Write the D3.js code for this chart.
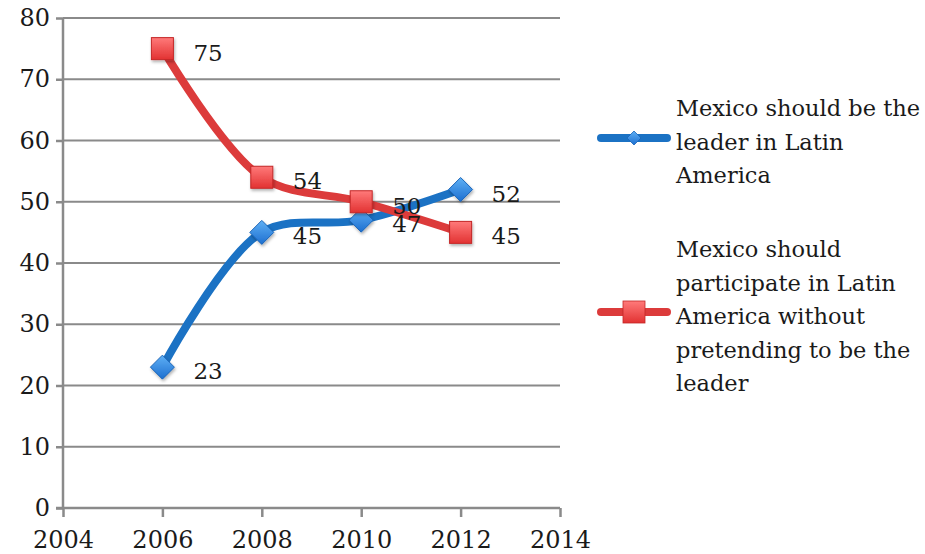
<!DOCTYPE html>
<html>
<head>
<meta charset="utf-8">
<script src="https://cdn.jsdelivr.net/npm/d3@7"></script>
<style>
  html, body { margin: 0; padding: 0; background: #fff; }
  svg { display: block; }
  text { font-family: "DejaVu Serif", "Liberation Serif", serif; fill: #1a1a1a; }
</style>
</head>
<body>
<svg id="chart" width="925" height="554"></svg>
<script>
// Survey results: share of respondents (%) by year
const years = [2006, 2008, 2010, 2012];
const leaderValues = [23, 45, 47, 52];
const participateValues = [75, 54, 50, 45];
const seriesNames = [
  ["Mexico should be the", "leader in Latin", "America"],
  ["Mexico should", "participate in Latin", "America without", "pretending to be the", "leader"]
];
const xTicks = [2004, 2006, 2008, 2010, 2012, 2014];
const yTicks = [0, 10, 20, 30, 40, 50, 60, 70, 80];

const svg = d3.select("#chart");
const plotLeft = 63, plotRight = 560, plotTop = 18, plotBottom = 508;

const x = d3.scaleLinear().domain([2004, 2014]).range([plotLeft, plotRight]);
const y = d3.scaleLinear().domain([0, 80]).range([plotBottom, plotTop]);

const blue = "#1b72c4", red = "#dc3b3b";

// gradients for markers
const defs = svg.append("defs");
function grad(id, c1, c2) {
  const g = defs.append("linearGradient").attr("id", id)
    .attr("x1", 0).attr("y1", 0).attr("x2", 0).attr("y2", 1);
  g.append("stop").attr("offset", "0%").attr("stop-color", c1);
  g.append("stop").attr("offset", "100%").attr("stop-color", c2);
}
grad("gRed", "#ff7a7a", "#e23232");
grad("gBlue", "#5fb0f5", "#1d6fd0");
const f = defs.append("filter").attr("id", "shadow").attr("x", "-30%").attr("y", "-30%").attr("width", "170%").attr("height", "170%");
f.append("feDropShadow").attr("dx", 1).attr("dy", 2).attr("stdDeviation", 1.5).attr("flood-color", "#000").attr("flood-opacity", 0.3);

// gridlines
svg.append("g").selectAll("line").data(yTicks.filter(d => d > 0)).join("line")
  .attr("x1", plotLeft).attr("x2", plotRight)
  .attr("y1", d => y(d)).attr("y2", d => y(d))
  .attr("stroke", "#8a8a8a").attr("stroke-width", 2);

// y axis
const yAxis = svg.append("g").attr("transform", `translate(${plotLeft},0)`)
  .call(d3.axisLeft(y).tickValues(yTicks).tickSize(7).tickPadding(6));
// x axis
const xAxis = svg.append("g").attr("transform", `translate(0,${plotBottom})`)
  .call(d3.axisBottom(x).tickValues(xTicks).tickFormat(d3.format("d")).tickSize(9).tickPadding(14));
[yAxis, xAxis].forEach(a => {
  a.select(".domain").attr("stroke", "#8a8a8a").attr("stroke-width", 2.5);
  a.selectAll(".tick line").attr("stroke", "#8a8a8a").attr("stroke-width", 2.5);
  a.selectAll(".tick text").attr("font-size", 24).attr("fill", "#1a1a1a")
    .attr("font-family", '"DejaVu Serif", "Liberation Serif", serif');
});
yAxis.select(".domain").attr("d", `M0,${plotBottom}V${plotTop}`);
xAxis.select(".domain").attr("d", `M${plotLeft - 7},0H${plotRight}`);

const line = d3.line().x(d => x(d[0])).y(d => y(d[1])).curve(d3.curveCatmullRom.alpha(0.5));
const leaderData = years.map((yr, i) => [yr, leaderValues[i]]);
const partData = years.map((yr, i) => [yr, participateValues[i]]);

function drawSeries(data, color, kind) {
  svg.append("path").datum(data).attr("d", line)
    .attr("fill", "none").attr("stroke", color).attr("stroke-width", 8)
    .attr("stroke-linecap", "round").attr("stroke-linejoin", "round");
  const g = svg.append("g");
  data.forEach(d => {
    const cx = x(d[0]), cy = y(d[1]);
    if (kind === "square") {
      g.append("rect").attr("x", cx - 11).attr("y", cy - 11).attr("width", 22).attr("height", 22)
        .attr("fill", "url(#gRed)").attr("stroke", "#c42727").attr("stroke-width", 1)
        .attr("filter", "url(#shadow)");
    } else {
      g.append("path").attr("d", `M${cx},${cy - 12}L${cx + 12},${cy}L${cx},${cy + 12}L${cx - 12},${cy}Z`)
        .attr("fill", "url(#gBlue)").attr("stroke", "#1a65b8").attr("stroke-width", 1)
        .attr("filter", "url(#shadow)");
    }
  });
}
drawSeries(leaderData, blue, "diamond");
drawSeries(partData, red, "square");

// value labels, to the right of each marker
function labels(data) {
  svg.append("g").selectAll("text").data(data).join("text")
    .attr("x", d => x(d[0]) + 31).attr("y", d => y(d[1]) + 4)
    .attr("dominant-baseline", "central")
    .attr("font-size", 23)
    .text(d => d[1]);
}
labels(leaderData);
labels(partData);

// legend
const legend = [
  { color: blue, kind: "diamond", y: 138, lines: seriesNames[0], textTop: 108 },
  { color: red, kind: "square", y: 312, lines: seriesNames[1], textTop: 249 }
];
legend.forEach(l => {
  svg.append("line").attr("x1", 601).attr("x2", 667).attr("y1", l.y).attr("y2", l.y)
    .attr("stroke", l.color).attr("stroke-width", 8).attr("stroke-linecap", "round");
  if (l.kind === "diamond") {
    svg.append("path").attr("d", `M634,${l.y - 7}L641,${l.y}L634,${l.y + 7}L627,${l.y}Z`)
      .attr("fill", "url(#gBlue)").attr("stroke", "#1a65b8").attr("stroke-width", 0.8);
  } else {
    svg.append("rect").attr("x", 623).attr("y", l.y - 11).attr("width", 22).attr("height", 22)
      .attr("fill", "url(#gRed)").attr("stroke", "#c42727").attr("stroke-width", 0.8);
  }
  const t = svg.append("text").attr("x", 676).attr("font-size", 22.5);
  l.lines.forEach((s, i) => {
    t.append("tspan").attr("x", 676).attr("y", l.textTop + i * 33.5)
      .attr("dominant-baseline", "central").text(s);
  });
});
</script>
</body>
</html>
